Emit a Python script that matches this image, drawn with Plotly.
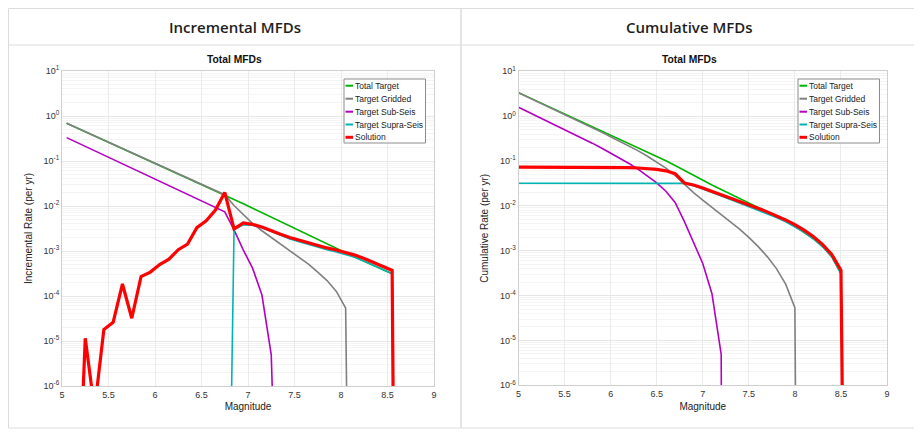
import plotly.graph_objects as go

# page body has an 8px margin; the figure is sized and placed to compensate
OFF = 8
W, H = 914, 425

# ---------------- data ----------------
mag_inc = [5.05, 5.15, 5.25, 5.35, 5.45, 5.55, 5.65, 5.75, 5.85, 5.95,
           6.05, 6.15, 6.25, 6.35, 6.45, 6.55, 6.65, 6.75, 6.85, 6.95,
           7.05, 7.15, 7.25, 7.35, 7.45, 7.55, 7.65, 7.75, 7.85, 7.95,
           8.05, 8.15, 8.25, 8.35, 8.45, 8.55, 8.65]

mag_cum = [5.0, 5.1, 5.2, 5.3, 5.4, 5.5, 5.6, 5.7, 5.8, 5.9,
           6.0, 6.1, 6.2, 6.3, 6.4, 6.5, 6.6, 6.7, 6.8, 6.9,
           7.0, 7.1, 7.2, 7.3, 7.4, 7.5, 7.6, 7.7, 7.8, 7.9,
           8.0, 8.1, 8.2, 8.3, 8.4, 8.5, 8.6]

inc_total_target = [0.692, 0.558, 0.450, 0.363, 0.292, 0.236, 0.190, 0.153, 0.123, 0.0995,
                    0.0802, 0.0647, 0.0521, 0.0420, 0.0339, 0.0273, 0.0220, 0.0178, 0.0141, 0.0112,
                    0.0089, 0.00708, 0.00562, 0.00447, 0.00355, 0.00282, 0.00224, 0.00178, 0.00141, 0.00112,
                    8.8e-4, 7.3e-4, 5.9e-4, 4.8e-4, 3.9e-4, 3.1e-4, 1e-30]
inc_gridded = [0.692, 0.558, 0.450, 0.363, 0.292, 0.236, 0.190, 0.153, 0.123, 0.0995,
               0.0802, 0.0647, 0.0521, 0.0420, 0.0339, 0.0273, 0.0220, 0.0178, 0.01023, 0.00631,
               0.00407, 0.00282, 0.0020, 0.00145, 0.00105, 0.00074, 0.00051, 0.00034, 0.00022, 0.000126,
               5.4e-5, 1e-22, None, None, None, None, None]
inc_sub_seis = [0.331, 0.265, 0.212, 0.170, 0.136, 0.108, 0.0867, 0.0694, 0.0555, 0.0444,
                0.0355, 0.0284, 0.0227, 0.0182, 0.0145, 0.0116, 0.0093, 0.0074, 2.95e-3, 1.05e-3,
                4.1e-4, 1.05e-4, 4.9e-6, 1e-12, None, None, None, None, None, None,
                None, None, None, None, None, None, None]
inc_supra_seis = [None, None, None, None, None, None, None, None, None, None,
                  None, None, None, None, None, None, None, 1e-16, 2.95e-3, 3.8e-3,
                  3.75e-3, 3.3e-3, 2.72e-3, 2.22e-3, 1.85e-3, 1.6e-3, 1.39e-3, 1.2e-3, 1.07e-3, 9.55e-4,
                  8.3e-4, 7.24e-4, 5.9e-4, 4.8e-4, 3.9e-4, 3.1e-4, 1e-30]
inc_solution = [None, 1e-10, 1.15e-5, 3e-7, 1.8e-5, 2.6e-5, 1.85e-4, 3.2e-5, 2.7e-4, 3.4e-4,
                5.0e-4, 6.6e-4, 1.07e-3, 1.43e-3, 3.3e-3, 4.7e-3, 8.1e-3, 2.0e-2, 3.1e-3, 4.2e-3,
                3.9e-3, 3.4e-3, 2.8e-3, 2.35e-3, 2.0e-3, 1.74e-3, 1.51e-3, 1.32e-3, 1.17e-3, 1.05e-3,
                9.3e-4, 8.1e-4, 6.8e-4, 5.6e-4, 4.6e-4, 3.7e-4, 1e-30]

cum_total_target = [3.35, 2.69, 2.17, 1.75, 1.41, 1.13, 0.912, 0.732, 0.589, 0.473,
                    0.380, 0.308, 0.248, 0.200, 0.160, 0.128, 0.1017, 0.0797, 0.0617, 0.0480,
                    0.0374, 0.0293, 0.0232, 0.0184, 0.0146, 0.0117, 0.00935, 0.00744, 0.0059, 0.00458,
                    0.00350, 0.0026, 0.00185, 0.00124, 0.00074, 0.00031, 1e-22]
cum_gridded = [3.32, 2.66, 2.14, 1.72, 1.376, 1.10, 0.88, 0.70, 0.557, 0.441,
               0.348, 0.276, 0.216, 0.168, 0.128, 0.096, 0.0697, 0.0477, 0.0299, 0.0197,
               0.01338, 0.00931, 0.00649, 0.00449, 0.00304, 0.00199, 0.00125, 0.00074, 0.00040, 0.00018,
               5.4e-5, 1e-33, None, None, None, None, None]
cum_sub_seis = [1.58, 1.26, 1.01, 0.805, 0.640, 0.509, 0.403, 0.318, 0.250, 0.195,
                0.151, 0.116, 0.0878, 0.0652, 0.0472, 0.0327, 0.0212, 0.0119, 0.00452, 0.00157,
                5.2e-4, 1.1e-4, 4.9e-6, 1e-50, None, None, None, None, None, None,
                None, None, None, None, None, None, None]
cum_supra_seis = [0.0320, 0.0320, 0.0320, 0.0320, 0.0320, 0.0320, 0.0320, 0.0320, 0.0320, 0.0320,
                  0.0320, 0.0320, 0.0320, 0.0320, 0.0320, 0.0320, 0.0320, 0.0320, 0.0318, 0.0283,
                  0.0240, 0.0200, 0.0167, 0.0139, 0.0116, 0.0097, 0.0081, 0.0067, 0.0055, 0.0044,
                  0.00345, 0.0026, 0.00185, 0.00124, 0.00074, 0.00031, 1e-22]
cum_solution = [0.0730, 0.0730, 0.0730, 0.0730, 0.0730, 0.0730, 0.0729, 0.0728, 0.0727, 0.0725,
                0.0721, 0.0716, 0.0710, 0.0699, 0.0685, 0.0652, 0.0605, 0.0524, 0.0324, 0.0293,
                0.0251, 0.0212, 0.0178, 0.0150, 0.0126, 0.0106, 0.00886, 0.00735, 0.00603, 0.00486,
                0.00381, 0.00288, 0.00207, 0.00139, 0.00083, 0.00037, 1e-22]

series_names = ["Total Target", "Target Gridded", "Target Sub-Seis", "Target Supra-Seis", "Solution"]
series_colors = ["#00b400", "#808080", "#b400c0", "#00b4b4", "#ff0000"]
series_widths = [1.6, 1.6, 1.6, 1.6, 3.2]

x_ticks = [5, 5.5, 6, 6.5, 7, 7.5, 8, 8.5, 9]
x_ticklabels = ["5", "5.5", "6", "6.5", "7", "7.5", "8", "8.5", "9"]
y_ticks = [1e-6, 1e-5, 1e-4, 1e-3, 1e-2, 1e-1, 1e0, 1e1]
y_ticklabels = ["10<sup>-6</sup>", "10<sup>-5</sup>", "10<sup>-4</sup>", "10<sup>-3</sup>",
                "10<sup>-2</sup>", "10<sup>-1</sup>", "10<sup>0</sup>", "10<sup>1</sup>"]

panel_titles = ["Incremental MFDs", "Cumulative MFDs"]
plot_title = "Total MFDs"
y_titles = ["Incremental Rate (per yr)", "Cumulative Rate (per yr)"]
x_title = "Magnitude"

# ---------------- figure ----------------
def px(x):
    return (x - OFF) / W


def py(y):
    return 1 - (y - OFF) / H


fig = go.Figure()

inc_series = [inc_total_target, inc_gridded, inc_sub_seis, inc_supra_seis, inc_solution]
cum_series = [cum_total_target, cum_gridded, cum_sub_seis, cum_supra_seis, cum_solution]

for vals, name, col, w in zip(inc_series, series_names, series_colors, series_widths):
    fig.add_trace(go.Scatter(x=mag_inc, y=vals, mode="lines", name=name,
                             line=dict(color=col, width=w), xaxis="x", yaxis="y",
                             showlegend=False, connectgaps=False))
for vals, name, col, w in zip(cum_series, series_names, series_colors, series_widths):
    fig.add_trace(go.Scatter(x=mag_cum, y=vals, mode="lines", name=name,
                             line=dict(color=col, width=w), xaxis="x2", yaxis="y2",
                             showlegend=False, connectgaps=False))

FONT = "Liberation Sans, Arial, sans-serif"
minor_vals = [m * 10.0 ** k for k in range(-6, 1) for m in range(2, 10)]


def xaxis_cfg(x0, x1):
    return dict(domain=[px(x0), px(x1)], range=[5, 9], tickmode="array",
                tickvals=x_ticks, ticktext=x_ticklabels, showgrid=True,
                gridcolor="#ebebeb", gridwidth=1, zeroline=False, showline=True,
                linecolor="#cfcfcf", linewidth=1, mirror=True, ticks="",
                tickfont=dict(family=FONT, size=9, color="#333"),
                title=dict(text=x_title, font=dict(family=FONT, size=10, color="#222"), standoff=4),
                automargin=False, fixedrange=True)


def yaxis_cfg(y_top, y_bot, title, anchor):
    return dict(domain=[py(y_bot), py(y_top)], type="log", range=[-6, 1], tickmode="array",
                tickvals=y_ticks, ticktext=y_ticklabels, showgrid=True, gridcolor="#e6e6e6",
                gridwidth=1, zeroline=False, showline=True, linecolor="#cfcfcf", linewidth=1,
                mirror=True, ticks="", anchor=anchor,
                minor=dict(tickvals=minor_vals, showgrid=True, gridcolor="#f4f4f4", ticks=""),
                tickfont=dict(family=FONT, size=9, color="#333"),
                title=dict(text=title, font=dict(family=FONT, size=10, color="#222"), standoff=9),
                automargin=False, fixedrange=True)


L = dict(x0=62, x1=434, yt=71, yb=386, hc=234.5)
R = dict(x0=518.5, x1=887, yt=71.3, yb=385.3, hc=689)

fig.update_layout(
    width=W, height=H, margin=dict(l=0, r=0, t=0, b=0),
    paper_bgcolor="white", plot_bgcolor="white", showlegend=False,
    xaxis=dict(xaxis_cfg(L["x0"], L["x1"]), anchor="y"),
    yaxis=yaxis_cfg(L["yt"], L["yb"], y_titles[0], "x"),
    xaxis2=dict(xaxis_cfg(R["x0"], R["x1"]), anchor="y2"),
    yaxis2=yaxis_cfg(R["yt"], R["yb"], y_titles[1], "x2"),
)

shapes = []
annotations = []
cards = [(8.5, 461), (461, 914.5)]
for (cx0, cx1), ptitle, P in zip(cards, panel_titles, [L, R]):
    shapes.append(dict(type="rect", xref="paper", yref="paper", x0=px(cx0), x1=px(cx1),
                       y0=py(428), y1=py(8.5), line=dict(color="#dcdcdc", width=1), layer="below"))
    shapes.append(dict(type="line", xref="paper", yref="paper", x0=px(cx0), x1=px(cx1),
                       y0=py(45), y1=py(45), line=dict(color="#dcdcdc", width=1)))
    annotations.append(dict(text=ptitle, xref="paper", yref="paper", x=px(P["hc"]), y=py(27),
                            xanchor="center", yanchor="middle", showarrow=False,
                            font=dict(family="Open Sans, sans-serif", size=15, color="#1e1e1e",
                                      weight=600)))
    annotations.append(dict(text="<b>" + plot_title + "</b>", xref="paper", yref="paper",
                            x=px(P["hc"]), y=py(59.5), xanchor="center", yanchor="middle",
                            showarrow=False, font=dict(family=FONT, size=10.3, color="#111")))

# legends (one per chart)
legend_boxes = [(344, 425.5), (798, 879.5)]
row_y = [85.7, 98.7, 111.7, 124.5, 137.3]
for lx0, lx1 in legend_boxes:
    shapes.append(dict(type="rect", xref="paper", yref="paper", x0=px(lx0), x1=px(lx1),
                       y0=py(143), y1=py(79), line=dict(color="#8c8c8c", width=1),
                       fillcolor="white"))
    for ry, name, col, w in zip(row_y, series_names, series_colors, series_widths):
        shapes.append(dict(type="line", xref="paper", yref="paper", x0=px(lx0 + 1.5),
                           x1=px(lx0 + 9), y0=py(ry), y1=py(ry),
                           line=dict(color=col, width=2 if w < 2 else 3)))
        annotations.append(dict(text=name, xref="paper", yref="paper", x=px(lx0 + 9.3),
                                y=py(ry), xanchor="left", yanchor="middle", showarrow=False,
                                font=dict(family=FONT, size=8.5, color="#222")))

fig.update_layout(shapes=shapes, annotations=annotations)
fig.write_html("out.html")
